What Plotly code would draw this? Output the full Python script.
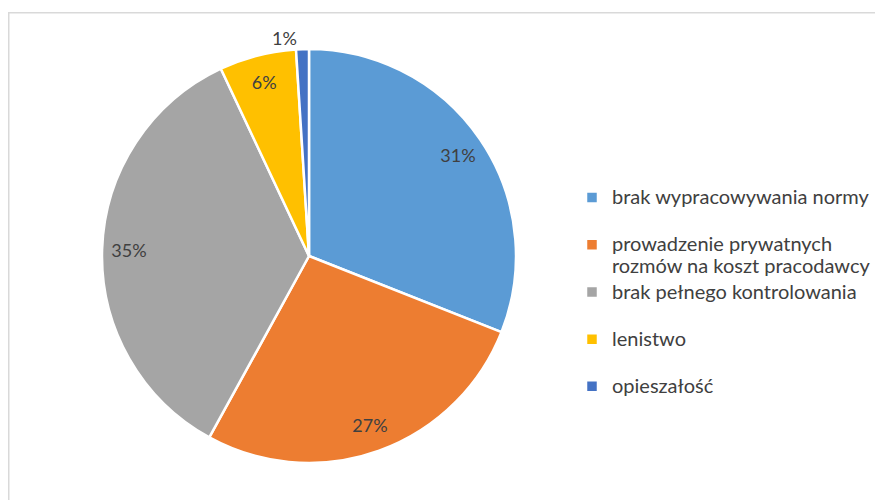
import plotly.graph_objects as go

labels = [
    "brak wypracowywania normy",
    "prowadzenie prywatnych<br>rozmów na koszt pracodawcy",
    "brak pełnego kontrolowania",
    "lenistwo",
    "opieszałość",
]
values = [31, 27, 35, 6, 1]
colors = ["#5B9BD5", "#ED7D31", "#A5A5A5", "#FFC000", "#4472C4"]
text_positions = ["inside", "inside", "inside", "inside", "outside"]

W, H = 883, 500
OFF = 8  # page body margin
cx, cy, R = 309 - OFF, 256 - OFF, 207
dom_x = [(cx - R) / W, (cx + R) / W]
dom_y = [(H - cy - R) / H, (H - cy + R) / H]

# legend labels padded to two lines so items are evenly spaced like the original
legend_labels = [l if "<br>" in l else l + "<br> " for l in labels]
legend_labels = ['<span style="font-size:20px">' + l.replace("<br>", '</span><br><span style="font-size:20px">') + "</span>"
                 for l in legend_labels]

fig = go.Figure()
fig.add_trace(go.Pie(
    labels=legend_labels, values=values, sort=False, direction="clockwise", rotation=0,
    marker=dict(colors=colors, line=dict(color="white", width=2.5)),
    textinfo="none", domain=dict(x=dom_x, y=dom_y), hoverinfo="percent",
    showlegend=True,
))
fig.add_trace(go.Pie(
    labels=legend_labels, values=values, sort=False, direction="clockwise", rotation=0,
    hole=0.74,
    marker=dict(colors=["rgba(0,0,0,0)"] * 5, line=dict(width=0)),
    texttemplate="%{percent:.0%}", textposition=text_positions,
    insidetextorientation="horizontal",
    textfont=dict(family="Lato", size=18, color="#404040"),
    domain=dict(x=dom_x, y=dom_y), hoverinfo="skip", showlegend=False,
))

fig.update_layout(
    width=W, height=H,
    margin=dict(l=0, r=0, t=0, b=0),
    paper_bgcolor="white", plot_bgcolor="white",
    font=dict(family="Lato", size=16, color="#404040"),
    legend=dict(
        x=564 / W, y=(H - 172) / H, xanchor="left", yanchor="top",
        valign="top", font=dict(family="Lato", size=17, color="#404040"),
        bgcolor="rgba(0,0,0,0)",
    ),
    shapes=[dict(type="rect", xref="paper", yref="paper",
                 x0=0.75 / W, x1=1.02, y0=-0.02, y1=(H - 4.75) / H,
                 line=dict(color="#D9D9D9", width=1.5), fillcolor="rgba(0,0,0,0)",
                 layer="below")],
)

fig.write_html("out.html")
